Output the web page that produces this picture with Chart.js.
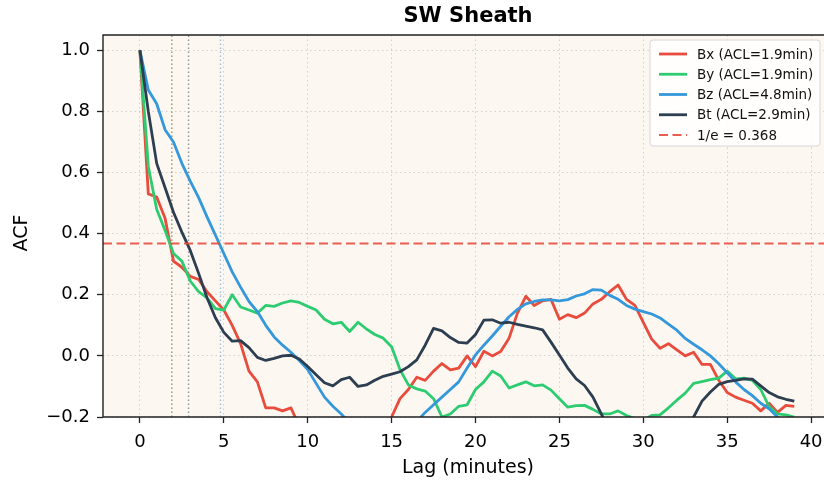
<!DOCTYPE html>
<html>
<head>
<meta charset="utf-8">
<title>SW Sheath ACF</title>
<script src="https://cdn.jsdelivr.net/npm/chart.js@4.4.0/dist/chart.umd.min.js"></script>
<style>
  html, body { margin: 0; padding: 0; background: #fff; overflow: hidden; }
  canvas { display: block; }
</style>
</head>
<body>
<canvas id="acfChart" width="824" height="484"></canvas>
<script>
// autocorrelation of each field component vs lag, sampled every half minute
const seriesNames = ['Bx', 'By', 'Bz', 'Bt'];
const seriesColors = ['#e74c3c', '#2ecc71', '#3498db', '#2c3e50'];
const aclMinutes = [1.9, 1.9, 4.8, 2.9];
const efold = 0.368;

const lagStep = 0.5;
const lags = Array.from({ length: 79 }, (_, i) => i * lagStep);

const bx = [1.0, 0.53, 0.52, 0.45, 0.31, 0.29, 0.26, 0.25, 0.21, 0.18,
  0.15, 0.10, 0.04, -0.05, -0.085, -0.17, -0.17, -0.18, -0.17, -0.23,
  -0.27, -0.30, -0.32, -0.33, -0.34, -0.34, -0.33, -0.31, -0.28, -0.24,
  -0.20, -0.14, -0.11, -0.07, -0.08, -0.05, -0.025, -0.046, -0.04, 0.0,
  -0.035, 0.015, 0.0, 0.014, 0.058, 0.14, 0.195, 0.165, 0.18, 0.185,
  0.12, 0.135, 0.125, 0.14, 0.17, 0.185, 0.21, 0.232, 0.185, 0.165,
  0.11, 0.055, 0.025, 0.04, 0.02, 0.0, 0.012, -0.028, -0.028, -0.08,
  -0.12, -0.135, -0.145, -0.155, -0.18, -0.155, -0.185, -0.162, -0.165];

const by = [1.0, 0.62, 0.48, 0.41, 0.335, 0.31, 0.245, 0.21, 0.19, 0.155,
  0.15, 0.20, 0.16, 0.15, 0.14, 0.165, 0.162, 0.173, 0.18, 0.175,
  0.162, 0.15, 0.12, 0.105, 0.11, 0.08, 0.11, 0.088, 0.07, 0.058,
  0.03, -0.045, -0.095, -0.108, -0.115, -0.14, -0.2, -0.19, -0.165, -0.16,
  -0.11, -0.085, -0.05, -0.066, -0.105, -0.095, -0.085, -0.098, -0.095, -0.112,
  -0.14, -0.168, -0.163, -0.162, -0.175, -0.19, -0.19, -0.18, -0.195, -0.205,
  -0.21, -0.195, -0.193, -0.17, -0.145, -0.122, -0.09, -0.084, -0.078, -0.073,
  -0.05, -0.075, -0.073, -0.08, -0.11, -0.166, -0.19, -0.193, -0.2];

const bz = [1.0, 0.87, 0.825, 0.74, 0.70, 0.63, 0.572, 0.518, 0.455, 0.395,
  0.335, 0.275, 0.225, 0.178, 0.145, 0.10, 0.062, 0.035, 0.012, -0.015,
  -0.045, -0.09, -0.135, -0.165, -0.19, -0.22, -0.24, -0.27, -0.29, -0.30,
  -0.29, -0.27, -0.24, -0.215, -0.185, -0.16, -0.135, -0.11, -0.085, -0.04,
  0.003, 0.035, 0.065, 0.097, 0.128, 0.152, 0.17, 0.178, 0.183, 0.183,
  0.18, 0.184, 0.196, 0.203, 0.217, 0.215, 0.198, 0.185, 0.165, 0.153,
  0.145, 0.137, 0.124, 0.104, 0.084, 0.057, 0.038, 0.02, 0.0, -0.026,
  -0.055, -0.085, -0.11, -0.13, -0.155, -0.173, -0.2, -0.23, -0.25];

const bt = [1.0, 0.80, 0.63, 0.55, 0.47, 0.405, 0.345, 0.27, 0.19, 0.125,
  0.077, 0.048, 0.05, 0.027, -0.005, -0.015, -0.008, 0.0, 0.002, -0.01,
  -0.035, -0.062, -0.088, -0.098, -0.078, -0.07, -0.10, -0.095, -0.08, -0.067,
  -0.06, -0.052, -0.035, -0.013, 0.035, 0.09, 0.082, 0.06, 0.044, 0.042,
  0.07, 0.117, 0.118, 0.107, 0.11, 0.103, 0.097, 0.092, 0.085, 0.045,
  0.003, -0.04, -0.075, -0.097, -0.135, -0.19, -0.25, -0.29, -0.32, -0.34,
  -0.35, -0.35, -0.34, -0.31, -0.27, -0.235, -0.20, -0.148, -0.118, -0.093,
  -0.084, -0.08, -0.075, -0.076, -0.098, -0.12, -0.134, -0.142, -0.148];

const xTicks = [0, 5, 10, 15, 20, 25, 30, 35, 40];
const yTicks = [-0.2, 0.0, 0.2, 0.4, 0.6, 0.8, 1.0];
const xRange = [-2.2, 40.77];
const yRange = [-0.2, 1.05];

const acfSeries = [bx, by, bz, bt];
const FONT = '"DejaVu Sans", sans-serif';

const datasets = [];
acfSeries.forEach((vals, k) => {
  datasets.push({
    label: `${seriesNames[k]} (ACL=${aclMinutes[k].toFixed(1)}min)`,
    data: vals.map((v, i) => ({ x: lags[i], y: v })),
    borderColor: seriesColors[k],
    borderWidth: 2.8,
    borderJoinStyle: 'round',
    pointRadius: 0,
    order: 5 - k,
    inLegend: true
  });
});
datasets.push({
  label: `1/e = ${efold.toFixed(3)}`,
  data: [{ x: xRange[0], y: efold }, { x: xRange[1], y: efold }],
  borderColor: 'rgba(231,76,60,0.9)',
  borderWidth: 2,
  borderDash: [9, 4.5],
  pointRadius: 0,
  order: 0,
  inLegend: true
});
// dotted markers at each correlation length
aclMinutes.forEach((acl, k) => {
  datasets.push({
    label: seriesNames[k] + ' ACL',
    data: [{ x: acl, y: yRange[0] }, { x: acl, y: yRange[1] }],
    borderColor: seriesColors[k] + '88',
    borderWidth: 1.4,
    borderDash: [1.5, 2.5],
    pointRadius: 0,
    order: 6,
    inLegend: false
  });
});

const framePlugin = {
  id: 'frame',
  beforeDraw(chart) {
    const { ctx, chartArea: a } = chart;
    ctx.save();
    ctx.fillStyle = '#fdf7f2';
    ctx.fillRect(a.left, a.top, a.right - a.left, a.bottom - a.top);
    ctx.restore();
  },
  afterDraw(chart) {
    const { ctx, chartArea: a } = chart;
    ctx.save();
    ctx.strokeStyle = '#222';
    ctx.lineWidth = 1.4;
    ctx.beginPath();
    ctx.moveTo(a.right, a.top);
    ctx.lineTo(a.left, a.top);
    ctx.lineTo(a.left, a.bottom);
    ctx.lineTo(a.right, a.bottom);
    ctx.stroke();

    ctx.fillStyle = '#000';
    ctx.textAlign = 'center';
    ctx.textBaseline = 'middle';
    ctx.font = 'bold 21px ' + FONT;
    ctx.fillText('SW Sheath', 468, 17);
    ctx.font = '19px ' + FONT;
    ctx.fillText('Lag (minutes)', 468, 468);
    ctx.translate(22, 233);
    ctx.rotate(-Math.PI / 2);
    ctx.fillText('ACF', 0, 0);
    ctx.restore();

    // legend box, upper right
    const items = chart.data.datasets.filter(d => d.inLegend);
    const bx0 = 650, by0 = 40, bw = 170, bh = 106;
    ctx.save();
    ctx.beginPath();
    ctx.roundRect(bx0, by0, bw, bh, 3);
    ctx.fillStyle = 'rgba(255,255,255,0.85)';
    ctx.fill();
    ctx.strokeStyle = '#d6d6d6';
    ctx.lineWidth = 1;
    ctx.stroke();
    ctx.font = '13.5px ' + FONT;
    ctx.textAlign = 'left';
    ctx.textBaseline = 'middle';
    items.forEach((d, i) => {
      const y = by0 + 14 + i * 20.25;
      ctx.beginPath();
      ctx.strokeStyle = d.borderColor;
      ctx.lineWidth = d.borderDash ? 1.8 : 2.8;
      ctx.setLineDash(d.borderDash || []);
      ctx.moveTo(659, y);
      ctx.lineTo(687, y);
      ctx.stroke();
      ctx.setLineDash([]);
      ctx.fillStyle = '#111';
      ctx.fillText(d.label, 697, y + 1);
    });
    ctx.restore();
  }
};

const axisCommon = {
  type: 'linear',
  border: { display: false, dash: [1.5, 3] },
  grid: {
    color: 'rgba(150,150,150,0.4)',
    lineWidth: 1,
    tickColor: '#222',
    tickLength: 6,
    tickWidth: 1.3
  }
};

new Chart(document.getElementById('acfChart'), {
  type: 'line',
  data: { datasets },
  options: {
    responsive: false,
    animation: false,
    devicePixelRatio: 1,
    layout: { padding: { top: 35, left: 0, right: 0, bottom: 0 } },
    plugins: { legend: { display: false }, tooltip: { enabled: false } },
    elements: { line: { tension: 0 } },
    scales: {
      x: Object.assign({}, axisCommon, {
        min: xRange[0],
        max: xRange[1],
        afterBuildTicks: s => { s.ticks = xTicks.map(v => ({ value: v })); },
        afterFit: s => { s.height = 67; s.paddingLeft = 0; s.paddingRight = 0; },
        ticks: {
          color: '#000',
          padding: 9,
          maxRotation: 0,
          font: { family: FONT, size: 18 },
          callback: v => String(v)
        }
      }),
      y: Object.assign({}, axisCommon, {
        min: yRange[0],
        max: yRange[1],
        afterBuildTicks: s => { s.ticks = yTicks.map(v => ({ value: v })); },
        afterFit: s => { s.width = 103; s.paddingTop = 0; s.paddingBottom = 0; },
        ticks: {
          color: '#000',
          padding: 7,
          font: { family: FONT, size: 18 },
          callback: v => (v < 0 ? '\u2212' : '') + Math.abs(v).toFixed(1)
        }
      })
    }
  },
  plugins: [framePlugin]
});
</script>
</body>
</html>
